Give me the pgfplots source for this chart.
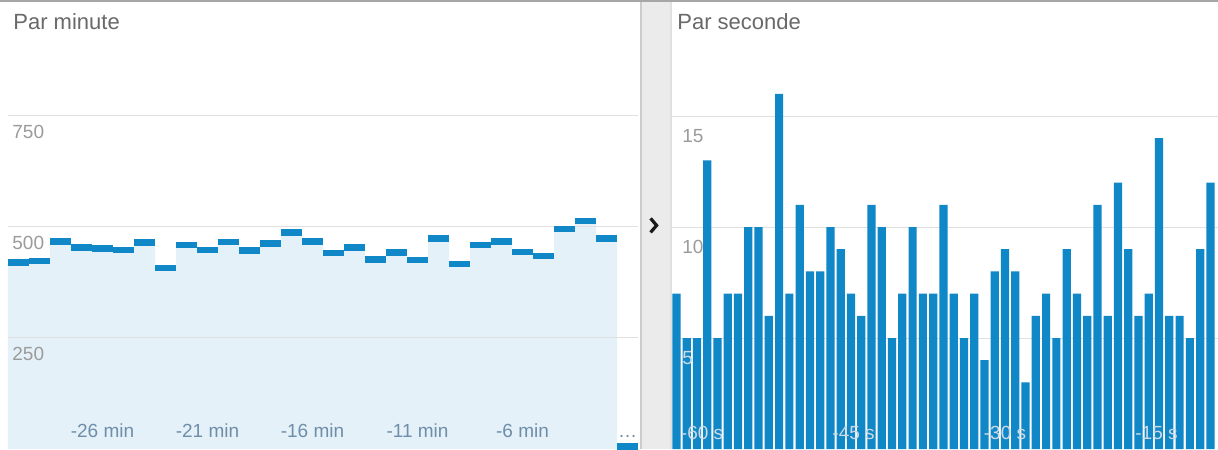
\documentclass[border=0pt]{standalone}
\usepackage{pgfplots}
\pgfplotsset{compat=1.18}
\usepackage{fontspec}
\setmainfont{Liberation Sans}
\definecolor{barblue}{RGB}{16,136,200}
\definecolor{areafill}{RGB}{229,241,248}
\definecolor{gridc}{RGB}{224,224,224}
\definecolor{titlec}{RGB}{105,105,105}
\definecolor{tickc}{RGB}{155,155,155}
\definecolor{xtickc}{RGB}{110,142,170}
\definecolor{lightlab}{RGB}{205,218,228}
\definecolor{sepc}{RGB}{235,235,235}
\pgfdeclareplotmark{hseg}{\pgfpathrectangle{\pgfpoint{-5.25pt}{-1.6pt}}{\pgfpoint{10.5pt}{3.2pt}}\pgfusepathqfill}
\newcommand{\lightfive}{\textcolor{lightlab}{5}}
\begin{document}
\begin{tikzpicture}[x=1pt,y=1pt]
\useasboundingbox (0,0) rectangle (609,224.5);
\fill[white] (0,0) rectangle (609,224.5);
\fill[sepc] (320,0) rectangle (336,224.5);
\fill[black!20] (320,0) rectangle (321,224.5);
\fill[black!12] (335,0) rectangle (336,224.5);
\fill[black!35] (0,223.5) rectangle (609,224.5);
\draw[line width=1.6pt, black!90, line join=miter] (325.3,115.3) -- (328.3,111.8) -- (325.3,108.3);
\node[anchor=base west, inner sep=0pt, text=titlec, font=\fontsize{11}{13}\selectfont] at (6.5,209.5) {Par minute};
\node[anchor=base west, inner sep=0pt, text=titlec, font=\fontsize{11}{13}\selectfont] at (338.5,209.5) {Par seconde};

\begin{axis}[at={(4pt,0pt)}, anchor=south west, scale only axis,
  width=315pt, height=222pt,
  xmin=0, xmax=30, ymin=0, ymax=1000, clip=false, axis on top,
  axis line style={draw=none}, major tick length=0pt,
  ytick={250,500,750}, yticklabels={250,500,750},
  ymajorgrids, grid style={gridc, line width=0.5pt},
  tick label style={font=\fontsize{9.5}{11}\selectfont},
  yticklabel style={anchor=west, inner sep=0pt, xshift=2pt, yshift=-8pt, text=tickc},
  xtick={4.5,9.5,14.5,19.5,24.5,29.5},
  xticklabels={-26 min,-21 min,-16 min,-11 min,-6 min,\ldots},
  xticklabel style={anchor=base, inner sep=0pt, yshift=5.5pt, text=xtickc},
]
\addplot[const plot, fill=areafill, draw=none] coordinates {
(0,420) (1,423) (2,467) (3,454) (4,452) (5,448) (6,465) (7,408) (8,459) (9,448)
(10,466) (11,447) (12,463) (13,488) (14,467) (15,441) (16,454) (17,427) (18,443) (19,426)
(20,474) (21,416) (22,459) (23,467) (24,444) (25,435) (26,495) (27,513) (28,474) (29,6) (30,6)
} \closedcycle;
\addplot[only marks, mark=hseg, color=barblue] coordinates {
(0.5,420) (1.5,423) (2.5,467) (3.5,454) (4.5,452) (5.5,448) (6.5,465) (7.5,408) (8.5,459) (9.5,448)
(10.5,466) (11.5,447) (12.5,463) (13.5,488) (14.5,467) (15.5,441) (16.5,454) (17.5,427) (18.5,443) (19.5,426)
(20.5,474) (21.5,416) (22.5,459) (23.5,467) (24.5,444) (25.5,435) (26.5,495) (27.5,513) (28.5,474) (29.5,6)
};
\end{axis}

\begin{axis}[at={(336pt,0pt)}, anchor=south west, scale only axis,
  width=273pt, height=222pt,
  xmin=0.571, xmax=53.74, ymin=0, ymax=20, axis on top,
  axis line style={draw=none}, major tick length=0pt,
  ytick={5,10,15}, yticklabels={\lightfive,10,15},
  tick label style={font=\fontsize{9.5}{11}\selectfont},
  yticklabel style={anchor=west, inner sep=0pt, xshift=5pt, yshift=-10pt, text=tickc},
  xtick={3.5,18.25,33,47.75},
  xticklabels={-60 s,-45 s,-30 s,-15 s},
  xticklabel style={anchor=base, inner sep=0pt, yshift=5pt, text=lightlab},
]
\draw[gridc, line width=0.5pt] (axis cs:0.571,5) -- (axis cs:53.74,5);
\draw[gridc, line width=0.5pt] (axis cs:0.571,10) -- (axis cs:53.74,10);
\draw[gridc, line width=0.5pt] (axis cs:0.571,15) -- (axis cs:53.74,15);
\addplot[ybar, bar width=0.8, fill=barblue, draw=none] coordinates {
(1,7) (2,5) (3,5) (4,13) (5,5) (6,7) (7,7) (8,10) (9,10) (10,6)
(11,16) (12,7) (13,11) (14,8) (15,8) (16,10) (17,9) (18,7) (19,6) (20,11)
(21,10) (22,5) (23,7) (24,10) (25,7) (26,7) (27,11) (28,7) (29,5) (30,7)
(31,4) (32,8) (33,9) (34,8) (35,3) (36,6) (37,7) (38,5) (39,9) (40,7)
(41,6) (42,11) (43,6) (44,12) (45,9) (46,6) (47,7) (48,14) (49,6) (50,6)
(51,5) (52,9) (53,12)
};
\end{axis}
\end{tikzpicture}
\end{document}
